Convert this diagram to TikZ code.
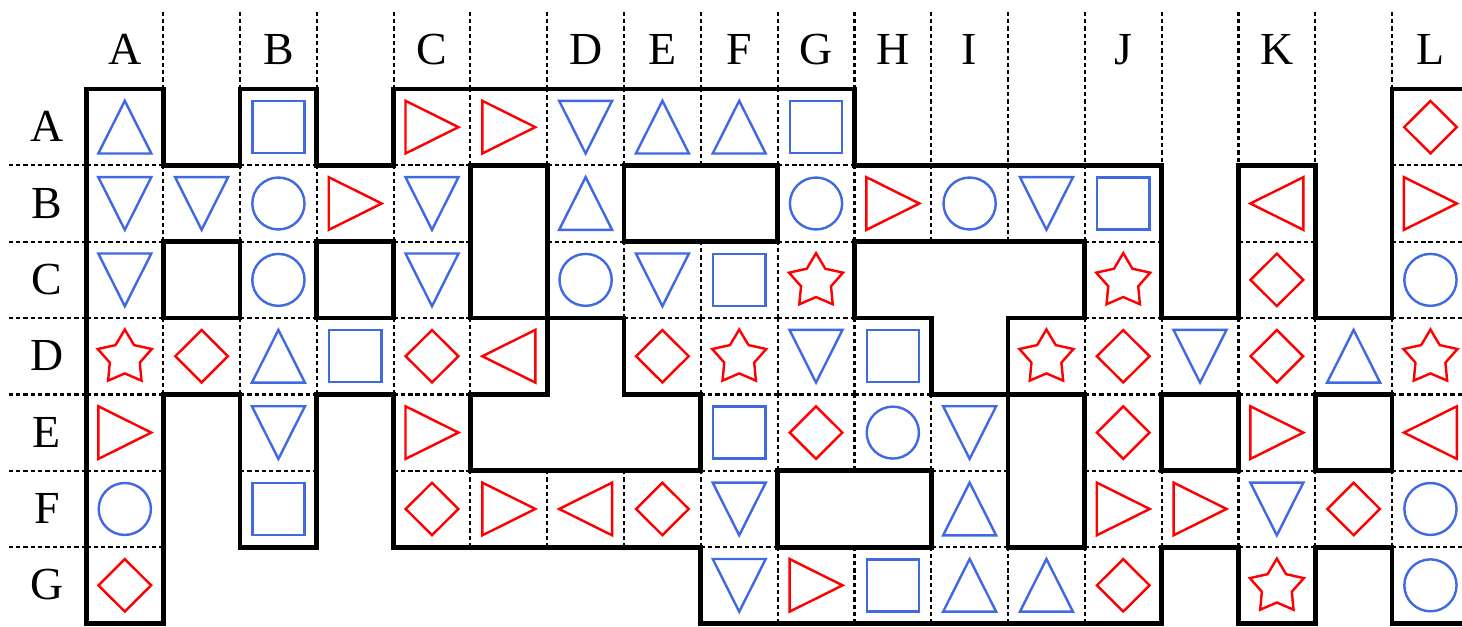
\documentclass[tikz,border=0pt]{standalone}
\usepackage{fontspec}
\setmainfont{Liberation Serif}
\definecolor{sblue}{RGB}{65,105,225}
\definecolor{sred}{RGB}{255,0,0}
\tikzset{
  wall/.style={line width=1.8pt, line cap=rect, black},
  gridline/.style={line width=0.8pt, dash pattern=on 1.6pt off 1.1pt, black},
  blueshape/.style={line width=0.9pt, draw=sblue},
  redshape/.style={line width=0.9pt, draw=sred},
  lbl/.style={font=\fontsize{17}{20}\selectfont, inner sep=0pt, anchor=base}
}
% cell codes: 0 none, 1 up, 2 down, 3 square, 4 circle, 5 right, 6 left, 7 diamond, 8 star
\def\G{{1,0,3,0,5,5,2,1,1,3,0,0,0,0,0,0,0,7,
2,2,4,5,2,0,1,0,0,4,5,4,2,3,0,6,0,5,
2,0,4,0,2,0,4,2,3,8,0,0,0,8,0,7,0,4,
8,7,1,3,7,6,0,7,8,2,3,0,8,7,2,7,1,8,
5,0,2,0,5,0,0,0,3,7,4,2,0,7,0,5,0,6,
4,0,3,0,7,5,6,7,2,0,0,1,0,5,5,2,7,4,
7,0,0,0,0,0,0,0,2,5,3,1,1,7,0,8,0,4}}
\begin{document}
\begin{tikzpicture}[x=1cm,y=0.9943cm]
\useasboundingbox (-1.125,-0.033) rectangle (17.911,8.165);
% header vertical dotted lines
\foreach \k/\d in {1/0,2/0,3/0,4/0,5/0,6/0,7/0,8/0,9/0,10/0,11/1,12/1,13/1,14/1,15/1,16/1,17/0}{
  \draw[gridline] (\k,8.01) -- (\k,7-\d);
}
% left margin dotted lines
\foreach \r in {1,...,6}{
  \draw[gridline] (-1.01,\r) -- (0,\r);
}
% vertical edges
\foreach \r in {0,...,6}{
  \foreach \k in {0,...,18}{
    \ifnum\k=0 \def\bl{0}\else\pgfmathtruncatemacro\bl{\G[\r*18+\k-1]>0}\fi
    \ifnum\k=18 \def\br{0}\else\pgfmathtruncatemacro\br{\G[\r*18+\k]>0}\fi
    \pgfmathtruncatemacro\s{\bl+\br}
    \ifnum\s=2 \draw[gridline] (\k,6-\r) -- (\k,7-\r);\fi
  }
}
% horizontal edges
\foreach \r in {0,...,7}{
  \foreach \c in {0,...,17}{
    \ifnum\r=0 \def\bu{0}\else\pgfmathtruncatemacro\bu{\G[(\r-1)*18+\c]>0}\fi
    \ifnum\r=7 \def\bd{0}\else\pgfmathtruncatemacro\bd{\G[\r*18+\c]>0}\fi
    \pgfmathtruncatemacro\s{\bu+\bd}
    \ifnum\s=2 \draw[gridline] (\c,7-\r) -- (\c+1,7-\r);\fi
  }
}
% walls
\foreach \r in {0,...,6}{
  \foreach \k in {0,...,18}{
    \ifnum\k=0 \def\bl{0}\else\pgfmathtruncatemacro\bl{\G[\r*18+\k-1]>0}\fi
    \ifnum\k=18 \def\br{0}\else\pgfmathtruncatemacro\br{\G[\r*18+\k]>0}\fi
    \pgfmathtruncatemacro\s{\bl+\br}
    \ifnum\s=1 \draw[wall] (\k,6-\r) -- (\k,7-\r);\fi
  }
}
\foreach \r in {0,...,7}{
  \foreach \c in {0,...,17}{
    \ifnum\r=0 \def\bu{0}\else\pgfmathtruncatemacro\bu{\G[(\r-1)*18+\c]>0}\fi
    \ifnum\r=7 \def\bd{0}\else\pgfmathtruncatemacro\bd{\G[\r*18+\c]>0}\fi
    \pgfmathtruncatemacro\s{\bu+\bd}
    \ifnum\s=1 \draw[wall] (\c,7-\r) -- (\c+1,7-\r);\fi
  }
}
% shapes
\foreach \r in {0,...,6}{
  \foreach \c in {0,...,17}{
    \pgfmathtruncatemacro\v{\G[\r*18+\c]}
    \begin{scope}[shift={(\c+0.5,6.5-\r)}]
    \ifcase\v
    \or \draw[blueshape] (-0.345,-0.345) -- (0.345,-0.345) -- (0,0.345) -- cycle;
    \or \draw[blueshape] (-0.345,0.345) -- (0.345,0.345) -- (0,-0.345) -- cycle;
    \or \draw[blueshape] (-0.34,-0.34) rectangle (0.34,0.34);
    \or \draw[blueshape] (0,0) circle[radius=0.34];
    \or \draw[redshape] (-0.345,-0.345) -- (0.345,0) -- (-0.345,0.345) -- cycle;
    \or \draw[redshape] (0.345,-0.345) -- (-0.345,0) -- (0.345,0.345) -- cycle;
    \or \draw[redshape] (0.343,0) -- (0,0.343) -- (-0.343,0) -- (0,-0.343) -- cycle;
    \or \draw[redshape, shift={(0,-0.02)}] (90:0.37) -- (126:0.205) -- (162:0.37) -- (198:0.205) -- (234:0.37) -- (270:0.205) -- (306:0.37) -- (342:0.205) -- (18:0.37) -- (54:0.205) -- cycle;
    \fi
    \end{scope}
  }
}
% column labels
\foreach \c/\t in {0/A,2/B,4/C,6/D,7/E,8/F,9/G,10/H,11/I,13/J,15/K,17/L}{
  \node[lbl] (col\t) at (\c+0.5,7.314) {\t};
}
% row labels
\foreach \r/\t in {0/A,1/B,2/C,3/D,4/E,5/F,6/G}{
  \node[lbl] (row\t) at (-0.513,6.31-\r) {\t};
}
\end{tikzpicture}
\end{document}
